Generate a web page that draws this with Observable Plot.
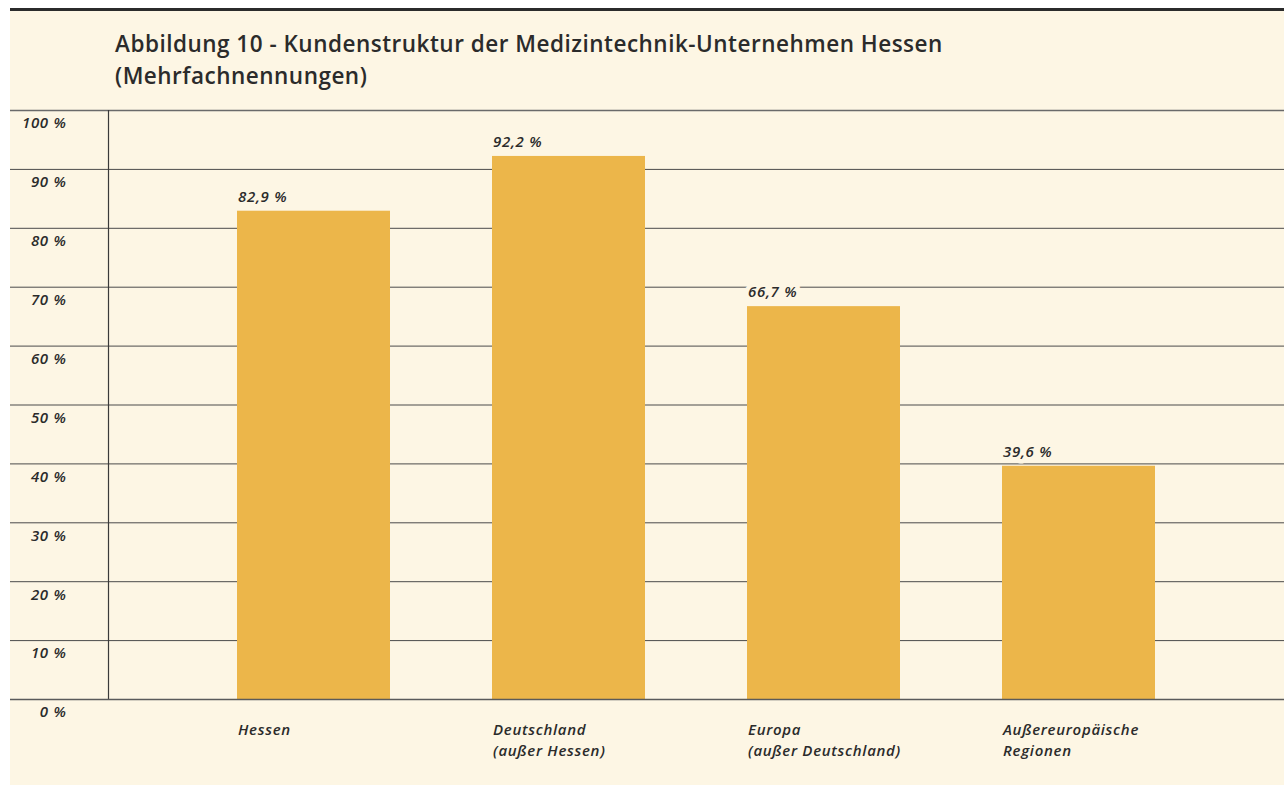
<!DOCTYPE html>
<html>
<head>
<meta charset="utf-8">
<script src="https://cdn.jsdelivr.net/npm/d3@7"></script>
<script src="https://cdn.jsdelivr.net/npm/@observablehq/plot@0.6"></script>
<style>
  html, body { margin: 0; padding: 0; background: #ffffff; }
  #page { position: absolute; left: 10px; top: 8px; width: 1274px; height: 777px; background: #fdf6e4; border-top: 3px solid #2b2b2b; box-sizing: border-box; }
  #title { position: absolute; left: 105px; top: 17px; font-family: "Open Sans", "Noto Sans", sans-serif; font-weight: 600; font-size: 22.5px; letter-spacing: 0.5px; line-height: 32px; color: #2b2b2b; }
  #chart { position: absolute; left: 0; top: 100px; }
</style>
</head>
<body>
<div id="page"><div id="title">Abbildung 10 - Kundenstruktur der Medizintechnik-Unternehmen Hessen<br>(Mehrfachnennungen)</div></div>
<div id="chart"></div>
<script>
const categories = ["Hessen", "Deutschland\n(außer Hessen)", "Europa\n(außer Deutschland)", "Außereuropäische\nRegionen"];
const values = [82.9, 92.2, 66.7, 39.6];
const valueLabels = ["82,9 %", "92,2 %", "66,7 %", "39,6 %"];
const yTicks = [0, 10, 20, 30, 40, 50, 60, 70, 80, 90, 100];
const yTickLabels = ["0 %", "10 %", "20 %", "30 %", "40 %", "50 %", "60 %", "70 %", "80 %", "90 %", "100 %"];

const data = categories.map((c, i) => ({cat: c, value: values[i], label: valueLabels[i]}));
const ticks = yTicks.map((t, i) => ({t, label: yTickLabels[i]}));

const font = "'Open Sans', 'Noto Sans', sans-serif";
const chart = Plot.plot({
  width: 1284,
  height: 685,
  marginLeft: 108,
  marginRight: 0,
  marginTop: 10,
  marginBottom: 86,
  style: {background: "transparent", fontFamily: font, overflow: "visible", letterSpacing: "0.7px"},
  x: {domain: categories, paddingInner: 0.4, paddingOuter: 0.5, axis: null},
  y: {domain: [0, 100], axis: null},
  marks: [
    Plot.ruleY(yTicks.filter(d => d > 0 && d < 100), {stroke: "#4a4a4a", strokeWidth: 1, insetLeft: -98}),
    Plot.ruleY([100], {stroke: "#6a6a6a", strokeWidth: 1.5, insetLeft: -98}),
    Plot.frame({anchor: "left", stroke: "#3a3a3a", strokeWidth: 1.2}),
    Plot.barY(data, {x: "cat", y: "value", fill: "#ecb64a"}),
    Plot.ruleY([0], {stroke: "#5a5a5a", strokeWidth: 1.5, insetLeft: -98}),
    Plot.text(ticks, {y: "t", text: "label", frameAnchor: "left", textAnchor: "end", dx: -42, dy: 13, fontSize: 15, fontStyle: "italic", fontWeight: 600, fill: "#2b2b2b"}),
    Plot.text(data, {x: "cat", y: "value", text: "label", textAnchor: "start", dx: -76, dy: -14, fontSize: 15, fontStyle: "italic", fontWeight: 600, fill: "#2b2b2b", stroke: "#fdf6e4", strokeWidth: 9, paintOrder: "stroke"}),
    Plot.text(data, {x: "cat", text: "cat", frameAnchor: "bottom", textAnchor: "start", lineAnchor: "top", dx: -76, dy: 21, fontSize: 15, lineHeight: 1.4, fontStyle: "italic", fontWeight: 600, fill: "#2b2b2b"})
  ]
});
document.getElementById("chart").appendChild(chart);
</script>
</body>
</html>
